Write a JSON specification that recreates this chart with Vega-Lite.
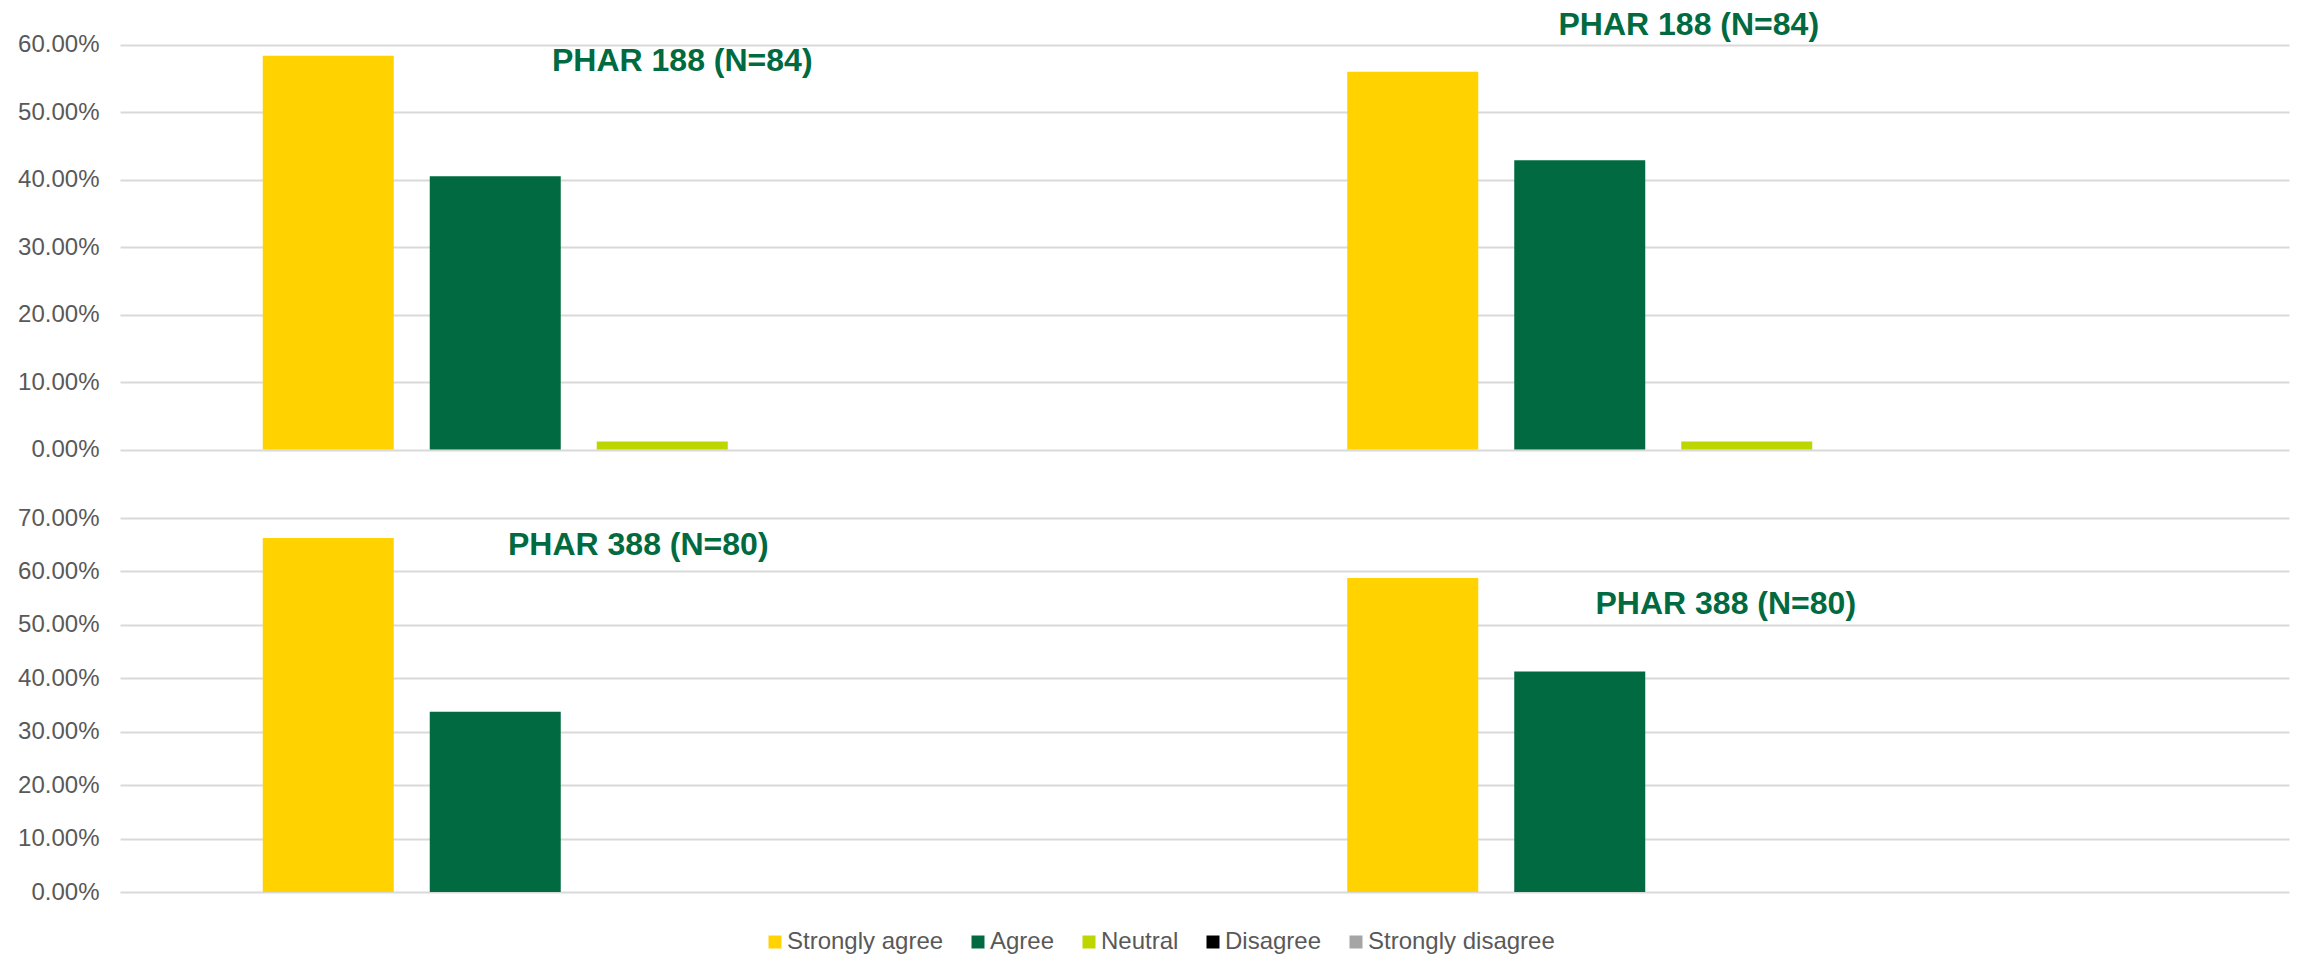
{
  "$schema": "https://vega.github.io/schema/vega-lite/v6.json",
  "padding": {"left": 17, "top": 4, "right": 8, "bottom": 2},
  "bounds": "flush",
  "spacing": 68,
  "background": "white",
  "datasets": {
    "bars": [
      {"panel": "PHAR 188", "question": "Q1", "response": "Strongly agree", "pct": 0.5833},
      {"panel": "PHAR 188", "question": "Q1", "response": "Agree", "pct": 0.4048},
      {"panel": "PHAR 188", "question": "Q1", "response": "Neutral", "pct": 0.0119},
      {"panel": "PHAR 188", "question": "Q1", "response": "Disagree", "pct": 0},
      {"panel": "PHAR 188", "question": "Q1", "response": "Strongly disagree", "pct": 0},
      {"panel": "PHAR 188", "question": "Q2", "response": "Strongly agree", "pct": 0.5595},
      {"panel": "PHAR 188", "question": "Q2", "response": "Agree", "pct": 0.4286},
      {"panel": "PHAR 188", "question": "Q2", "response": "Neutral", "pct": 0.0119},
      {"panel": "PHAR 188", "question": "Q2", "response": "Disagree", "pct": 0},
      {"panel": "PHAR 188", "question": "Q2", "response": "Strongly disagree", "pct": 0},
      {"panel": "PHAR 388", "question": "Q1", "response": "Strongly agree", "pct": 0.6625},
      {"panel": "PHAR 388", "question": "Q1", "response": "Agree", "pct": 0.3375},
      {"panel": "PHAR 388", "question": "Q1", "response": "Neutral", "pct": 0},
      {"panel": "PHAR 388", "question": "Q1", "response": "Disagree", "pct": 0},
      {"panel": "PHAR 388", "question": "Q1", "response": "Strongly disagree", "pct": 0},
      {"panel": "PHAR 388", "question": "Q2", "response": "Strongly agree", "pct": 0.5875},
      {"panel": "PHAR 388", "question": "Q2", "response": "Agree", "pct": 0.4125},
      {"panel": "PHAR 388", "question": "Q2", "response": "Neutral", "pct": 0},
      {"panel": "PHAR 388", "question": "Q2", "response": "Disagree", "pct": 0},
      {"panel": "PHAR 388", "question": "Q2", "response": "Strongly disagree", "pct": 0}
    ]
  },
  "vconcat": [
    {
      "width": 2169,
      "height": 445.5,
      "layer": [
        {
          "data": {"name": "bars"},
          "transform": [{"filter": "datum.panel === 'PHAR 188'"}],
          "mark": {"type": "bar"},
          "encoding": {
            "x": {"field": "question", "type": "nominal", "axis": null, "scale": {"paddingInner": 0, "paddingOuter": 0}},
            "xOffset": {"field": "response", "type": "nominal", "sort": ["Strongly agree", "Agree", "Neutral", "Disagree", "Strongly disagree"], "scale": {"paddingInner": 0.2156, "paddingOuter": 0.8548}},
            "y": {"field": "pct", "type": "quantitative", "scale": {"domain": [0, 0.66], "nice": false}, "axis": {"values": [0, 0.1, 0.2, 0.3, 0.4, 0.5, 0.6], "format": ".2%", "title": null}},
            "color": {"field": "response", "type": "nominal", "scale": {"domain": ["Strongly agree", "Agree", "Neutral", "Disagree", "Strongly disagree"], "range": ["#FFD200", "#016A40", "#BED600", "#000000", "#A5A5A5"]}, "legend": {"title": null, "orient": "none", "direction": "horizontal", "legendX": 643, "legendY": 926}}
          }
        },
        {
          "data": {"values": [{"question": "Q1", "response": "Neutral", "pct": 0.5604, "label": "PHAR 188 (N=84)"}]},
          "mark": {"type": "text", "fontSize": 32, "fontWeight": "bold", "color": "#016A40", "baseline": "alphabetic", "align": "center", "dx": 20},
          "encoding": {
            "x": {"field": "question", "type": "nominal"},
            "xOffset": {"field": "response", "type": "nominal", "sort": ["Strongly agree", "Agree", "Neutral", "Disagree", "Strongly disagree"]},
            "y": {"field": "pct", "type": "quantitative"},
            "text": {"field": "label"}
          }
        },
        {
          "data": {"values": [{"question": "Q2", "response": "Neutral", "pct": 0.614, "label": "PHAR 188 (N=84)"}]},
          "mark": {"type": "text", "fontSize": 32, "fontWeight": "bold", "color": "#016A40", "baseline": "alphabetic", "align": "center", "dx": -58},
          "encoding": {
            "x": {"field": "question", "type": "nominal"},
            "xOffset": {"field": "response", "type": "nominal", "sort": ["Strongly agree", "Agree", "Neutral", "Disagree", "Strongly disagree"]},
            "y": {"field": "pct", "type": "quantitative"},
            "text": {"field": "label"}
          }
        }
      ]
    },
    {
      "width": 2169,
      "height": 374,
      "layer": [
        {
          "data": {"name": "bars"},
          "transform": [{"filter": "datum.panel === 'PHAR 388'"}],
          "mark": {"type": "bar"},
          "encoding": {
            "x": {"field": "question", "type": "nominal", "axis": null, "scale": {"paddingInner": 0, "paddingOuter": 0}},
            "xOffset": {"field": "response", "type": "nominal", "sort": ["Strongly agree", "Agree", "Neutral", "Disagree", "Strongly disagree"], "scale": {"paddingInner": 0.2156, "paddingOuter": 0.8548}},
            "y": {"field": "pct", "type": "quantitative", "scale": {"domain": [0, 0.7], "nice": false}, "axis": {"values": [0, 0.1, 0.2, 0.3, 0.4, 0.5, 0.6, 0.7], "format": ".2%", "title": null}},
            "color": {"field": "response", "type": "nominal"}
          }
        },
        {
          "data": {"values": [{"question": "Q1", "response": "Neutral", "pct": 0.631, "label": "PHAR 388 (N=80)"}]},
          "mark": {"type": "text", "fontSize": 32, "fontWeight": "bold", "color": "#016A40", "baseline": "alphabetic", "align": "center", "dx": -24},
          "encoding": {
            "x": {"field": "question", "type": "nominal"},
            "xOffset": {"field": "response", "type": "nominal", "sort": ["Strongly agree", "Agree", "Neutral", "Disagree", "Strongly disagree"]},
            "y": {"field": "pct", "type": "quantitative"},
            "text": {"field": "label"}
          }
        },
        {
          "data": {"values": [{"question": "Q2", "response": "Neutral", "pct": 0.521, "label": "PHAR 388 (N=80)"}]},
          "mark": {"type": "text", "fontSize": 32, "fontWeight": "bold", "color": "#016A40", "baseline": "alphabetic", "align": "center", "dx": -21},
          "encoding": {
            "x": {"field": "question", "type": "nominal"},
            "xOffset": {"field": "response", "type": "nominal", "sort": ["Strongly agree", "Agree", "Neutral", "Disagree", "Strongly disagree"]},
            "y": {"field": "pct", "type": "quantitative"},
            "text": {"field": "label"}
          }
        }
      ]
    }
  ],
  "config": {
    "font": "Liberation Sans",
    "view": {"stroke": null},
    "axisY": {
      "grid": true,
      "gridColor": "#D9D9D9",
      "gridWidth": 2,
      "domain": false,
      "ticks": false,
      "labelPadding": 21,
      "labelFontSize": 24,
      "labelColor": "#595959",
      "labelFont": "Liberation Sans",
      "minExtent": 102,
      "maxExtent": 102
    },
    "legend": {
      "labelFontSize": 24,
      "labelColor": "#595959",
      "labelFont": "Liberation Sans",
      "labelLimit": 0,
      "symbolType": "square",
      "symbolSize": 169,
      "symbolStrokeWidth": 0,
      "columnPadding": 22,
      "labelOffset": 0,
      "padding": 0
    }
  }
}
